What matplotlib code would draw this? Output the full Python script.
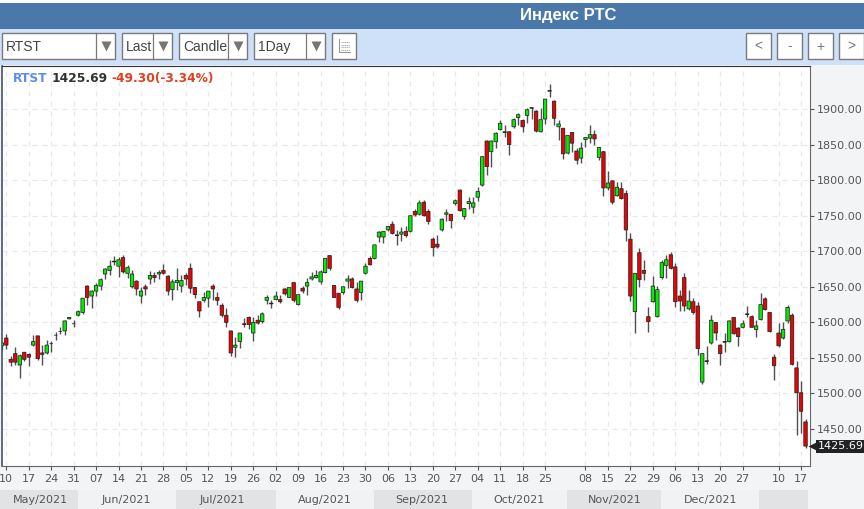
import numpy as np
import matplotlib
matplotlib.use("Agg")
import matplotlib.pyplot as plt
from matplotlib.patches import Rectangle

# daily candles (bar 0 .. bar 179)
opens = [1567,1578,1548,1556,1540,1558,1555,1568,1581,1557,
         1557,1570,1582,1587,1588,1605,1598,1610,1614,1651,
         1637,1644,1651,1668,1673,1685,1679,1691,1669,1650,
         1658,1637,1650,1661,1666,1668,1673,1665,1646,1656,
         1651,1666,1676,1649,1629,1631,1634,1651,1635,1624,
         1610,1588,1565,1573,1598,1607,1585,1603,1601,1631,
         1627,1632,1632,1647,1635,1656,1625,1648,1651,1661,
         1663,1657,1670,1694,1652,1641,1642,1658,1661,1647,
         1642,1669,1690,1690,1720,1720,1730,1738,1723,1724,
         1728,1728,1756,1752,1769,1756,1717,1710,1730,1752,
         1752,1767,1786,1749,1767,1762,1776,1793,1855,1840,
         1854,1871,1867,1868,1875,1888,1884,1891,1901,1897,
         1868,1886,1925,1911,1875,1873,1838,1867,1841,1831,
         1857,1859,1864,1832,1840,1789,1799,1778,1788,1781,
         1717,1615,1698,1673,1608,1629,1608,1663,1680,1695,
         1678,1637,1663,1619,1629,1623,1516,1546,1571,1600,
         1568,1572,1573,1607,1592,1593,1611,1608,1590,1604,
         1633,1614,1551,1585,1578,1602,1610,1536,1501,1460]
highs = [1573,1584,1552,1565,1556,1559,1557,1582,1581,1568,
         1575,1574,1586,1593,1603,1607,1603,1617,1634,1652,
         1646,1656,1662,1677,1687,1693,1692,1695,1681,1673,
         1660,1650,1654,1672,1671,1674,1682,1667,1661,1676,
         1667,1669,1683,1650,1629,1643,1644,1654,1643,1627,
         1620,1588,1580,1585,1606,1609,1607,1610,1614,1639,
         1632,1644,1639,1649,1650,1656,1639,1651,1662,1671,
         1673,1674,1690,1694,1653,1641,1651,1667,1664,1657,
         1658,1683,1693,1709,1729,1729,1736,1742,1730,1734,
         1735,1751,1760,1772,1772,1759,1720,1723,1747,1759,
         1753,1773,1788,1761,1776,1776,1791,1834,1856,1856,
         1868,1885,1877,1869,1888,1894,1886,1901,1903,1899,
         1902,1914,1935,1913,1885,1874,1864,1868,1845,1854,
         1861,1878,1871,1847,1841,1813,1800,1798,1797,1786,
         1726,1669,1705,1687,1621,1665,1651,1688,1695,1699,
         1683,1646,1670,1645,1634,1629,1557,1567,1611,1601,
         1569,1585,1603,1608,1594,1603,1623,1610,1603,1641,
         1636,1614,1556,1599,1600,1624,1613,1546,1518,1464]
lows = [1561,1562,1539,1540,1522,1546,1539,1567,1547,1540,
        1556,1559,1575,1583,1582,1605,1593,1609,1612,1624,
        1620,1637,1645,1661,1667,1681,1664,1670,1662,1649,
        1639,1627,1639,1654,1657,1661,1668,1639,1632,1646,
        1643,1653,1641,1634,1608,1629,1621,1631,1624,1608,
        1593,1552,1551,1564,1593,1590,1574,1598,1599,1626,
        1620,1631,1627,1638,1635,1629,1624,1641,1638,1660,
        1662,1654,1669,1673,1635,1619,1640,1648,1648,1629,
        1632,1668,1680,1689,1713,1712,1729,1724,1709,1714,
        1720,1727,1750,1751,1749,1739,1693,1704,1729,1742,
        1732,1765,1756,1746,1759,1754,1770,1792,1807,1818,
        1845,1870,1861,1836,1874,1878,1868,1880,1886,1868,
        1867,1879,1917,1878,1856,1830,1837,1840,1822,1824,
        1847,1852,1849,1829,1778,1786,1766,1777,1773,1715,
        1630,1585,1650,1659,1586,1628,1608,1661,1663,1675,
        1622,1616,1616,1617,1612,1554,1514,1542,1570,1575,
        1540,1559,1573,1583,1567,1592,1607,1593,1579,1603,
        1617,1587,1519,1566,1576,1599,1540,1442,1444,1423]
closes = [1571,1568,1544,1544,1553,1548,1551,1573,1549,1555,
          1568,1570,1582,1587,1602,1607,1598,1615,1634,1635,
          1644,1652,1660,1675,1679,1686,1688,1671,1677,1668,
          1647,1644,1647,1666,1663,1670,1669,1644,1657,1659,
          1659,1661,1648,1639,1616,1635,1644,1647,1631,1610,
          1600,1557,1568,1585,1597,1597,1600,1599,1612,1635,
          1626,1637,1629,1640,1649,1631,1639,1644,1656,1664,
          1666,1671,1690,1676,1635,1621,1650,1661,1649,1631,
          1658,1679,1681,1709,1727,1728,1735,1725,1722,1727,
          1722,1750,1751,1768,1750,1742,1705,1706,1745,1754,
          1743,1771,1757,1760,1770,1768,1784,1833,1819,1855,
          1866,1880,1868,1850,1885,1892,1875,1899,1902,1869,
          1885,1914,1926,1887,1879,1837,1863,1852,1828,1845,
          1860,1864,1858,1846,1789,1796,1769,1790,1774,1730,
          1637,1669,1660,1669,1601,1651,1646,1684,1688,1676,
          1629,1630,1623,1630,1614,1563,1556,1545,1603,1585,
          1556,1573,1602,1584,1580,1598,1612,1593,1595,1625,
          1618,1587,1539,1567,1590,1621,1541,1501,1475,1426]

tick_pos = [1,6,11,16,21,26,31,36,41,46,51,56,61,66,71,76,81,86,91,96,
            101,106,111,116,121,130,135,140,145,150,155,160,165,173,178]
tick_labels = ["10","17","24","31","07","14","21","28","05","12","19","26",
               "02","09","16","23","30","06","13","20","27","04","11","18",
               "25","08","15","22","29","06","13","20","27","10","17"]
price_ticks = [1450,1500,1550,1600,1650,1700,1750,1800,1850,1900]

months = ["May/2021","Jun/2021","Jul/2021","Aug/2021","Sep/2021","Oct/2021","Nov/2021","Dec/2021",""]
month_edges = [0,78,176,276,374,472,567,661,759,808]
month_text_x = [40,126,222,325,422,519,615,711,784]

last_price = 1425.69

W, H = 864, 509
fig = plt.figure(figsize=(W/100, H/100), dpi=100, facecolor="#f3f4f6")

# page furniture in pixel coordinates
ui = fig.add_axes([0,0,1,1], zorder=0)
ui.set_xlim(0, W)
ui.set_ylim(H, 0)
ui.axis("off")

def box(x0, y0, x1, y1, fc, ec="none", lw=0):
    ui.add_patch(Rectangle((x0,y0), x1-x0, y1-y0, fc=fc, ec=ec, lw=lw))

box(0,0,W,3,"white")
box(0,3,W,29,"#4a78a8")
box(0,29,W,65,"#cee1f9")
ui.text(568, 15.5, "Индекс РТС", color="white", family="Liberation Sans", weight="bold",
        fontsize=12, ha="center", va="center")

def combo(x0, x1, div, label):
    box(x0,33,x1,59,"white","#7a7a7a",1)
    ui.plot([div,div],[33,59],color="#7a7a7a",lw=0.9)
    ui.plot([(div+x1)/2],[46],marker="v",ms=7,color="#777570",mec="none")
    ui.text(x0+4.5,46.5,label,color="#444444",family="Liberation Sans",fontsize=10,va="center",clip_on=True)

combo(1.5,115,96,"RTST")
combo(121.5,172,153,"Last")
combo(178.5,247,228,"Candle")
combo(253.5,325,306,"1Day")

# table icon button
box(331.5,33,356,59,"white","#7a7a7a",1)
ui.plot([339,339,350],[39,52,52],color="#999999",lw=0.8)
for yy in [42,44.5,47,49.5]:
    ui.plot([341,350],[yy,yy],color="#aaaaaa",lw=0.8,ls=(0,(1,0.6)))

for x0, x1, s in [(745.5,771,"<"),(776.5,802,"-"),(807.5,833,"+"),(838.5,864,">")]:
    box(x0,33,x1,59,"white","#7a7a7a",1)
    ui.text((x0+x1)/2,46.5,s,color="#777777",family="Liberation Sans",fontsize=10,ha="center",va="center")

for i, name in enumerate(months):
    fc = "#e2e3e5" if i % 2 == 0 else "#f1f2f4"
    box(month_edges[i],490,month_edges[i+1],H,fc)
    if name:
        ui.text(month_text_x[i],500,name,color="#555555",fontsize=8,ha="center",va="center")

# candle chart
ax = fig.add_axes([2/W, (H-466)/H, 808/W, 400/H], zorder=1)
ax.set_facecolor("white")
ax.set_xlim(0.045, 180)
ax.set_ylim(1398, 1960.5)

x = np.arange(len(opens))
o = np.array(opens, float)
c = np.array(closes, float)
colors = ["#00f000" if b >= a else "#f00000" for a, b in zip(opens, closes)]
ax.vlines(x, lows, highs, color="#505050", lw=1.0, zorder=2)
bars = ax.bar(x, np.abs(c-o), bottom=np.minimum(o,c), width=0.76, color=colors,
              edgecolor="#222222", lw=0.55, zorder=3)
for b in bars:
    b.set_snap(False)

ax.set_xticks(tick_pos)
ax.set_xticklabels(tick_labels)
ax.set_yticks(price_ticks)
ax.set_yticklabels(["%.2f" % p for p in price_ticks])
ax.yaxis.tick_right()
ax.tick_params(axis="both", length=3, width=0.8, color="#555555", labelcolor="#555555",
               labelsize=8, pad=2)
ax.tick_params(axis="x", pad=2.5)
ax.grid(True, color="#e8e8e8", lw=0.9, ls=(0,(4,4)), zorder=0)
ax.set_axisbelow(True)
ax.spines["top"].set_color("#333333")
ax.spines["left"].set_color("#44546a")
ax.spines["left"].set_linewidth(1.2)
ax.spines["right"].set_color("#666666")
ax.spines["bottom"].set_color("#666666")

# last price flag on the right axis
tr = ax.get_yaxis_transform()
ax.plot([1.0065],[last_price],marker="<",ms=10,color="#222222",mec="none",transform=tr,clip_on=False,zorder=5)
ax.text(1.0095,last_price,"%.2f" % last_price,transform=tr,color="white",fontsize=8,
        va="center",ha="left",clip_on=False,zorder=6,
        bbox=dict(boxstyle="square,pad=0.12",fc="#222222",ec="none"))

# quote line
qy = 78.5
ui.set_zorder(2)
ui.patch.set_visible(False)
ui.text(13,qy,"RTST",color="#5b8cf2",weight="bold",fontsize=8.8,va="center")
ui.text(52,qy,"%.2f" % last_price,color="#333333",weight="bold",fontsize=8.8,va="center")
ui.text(111,qy,"-49.30(-3.34%)",color="#e0401f",weight="bold",fontsize=8.8,va="center")

fig.savefig("out.png", dpi=100, facecolor=fig.get_facecolor())
